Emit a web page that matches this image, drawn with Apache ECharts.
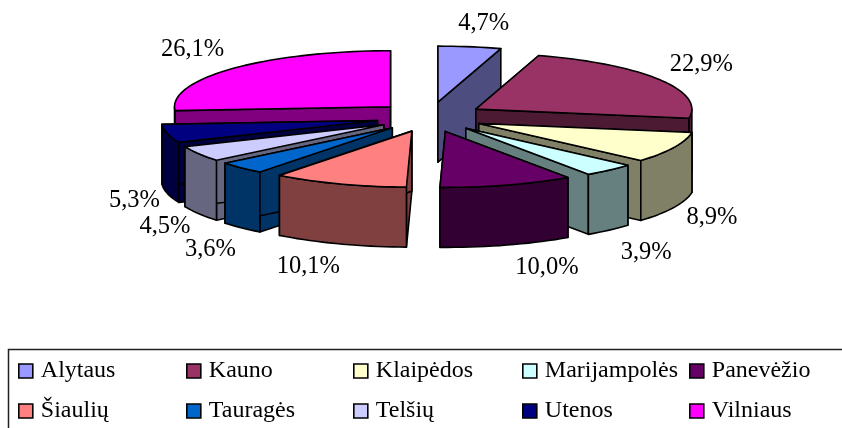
<!DOCTYPE html>
<html>
<head>
<meta charset="utf-8">
<style>html,body{margin:0;padding:0;background:#fff}#c{width:842px;height:428px}</style>
<script src="https://cdn.jsdelivr.net/npm/echarts@6/dist/echarts.min.js"></script>
</head>
<body>
<div id="c"></div>
<script>
// Regional shares, in percent, clockwise from twelve o'clock
const regions = ['Alytaus','Kauno','Klaipėdos','Marijampolės','Panevėžio','Šiaulių','Tauragės','Telšių','Utenos','Vilniaus'];
const shares = [4.7,22.9,8.9,3.9,10.0,10.1,3.6,4.5,5.3,26.1];
const topColors = ['#9999FF','#993366','#FFFFCC','#CCFFFF','#660066','#FF8080','#0066CC','#CCCCFF','#000080','#FF00FF'];
const sideColors = ['#4D4D80','#4D1A33','#808066','#668080','#330033','#804040','#003366','#666680','#000040','#800080'];
// Label shift from the rim point on each slice's bisector
const labelNudge = [[14,-24],[42,-16],[38,69],[37,81],[40,82],[-31,82],[-31,81],[-34,72],[-33,66],[-40,-20]];
const legendColumns = [['Alytaus','Šiaulių'],['Kauno','Tauragės'],['Klaipėdos','Telšių'],['Marijampolės','Utenos'],['Panevėžio','Vilniaus']];
const legendLefts = [18,186,353,522,689];

// Tilted pie projection
const CX = 430, CY = 117, RX = 216, RY = 56, EX = 54, EY = 15, DEPTH = 60;
const FONT = '"Liberation Serif","Times New Roman",serif';
const total = shares.reduce((a, b) => a + b, 0);
const rad = d => d * Math.PI / 180;

const spans = [];
shares.reduce((acc, v) => {
  const end = acc + v / total * 360;
  spans.push([acc, end]);
  return end;
}, 0);

function sliceGroup(i) {
  const [a0, a1] = spans[i];
  const mid = (a0 + a1) / 2;
  const tipX = CX + EX * Math.sin(rad(mid));
  const tipY = CY - EY * Math.cos(rad(mid));
  const rim = a => [tipX + RX * Math.sin(rad(a)), tipY - RY * Math.cos(rad(a))];
  const arc = (from, to) => {
    const pts = [];
    const n = Math.max(2, Math.ceil((to - from) / 2));
    for (let k = 0; k <= n; k++) pts.push(rim(from + (to - from) * k / n));
    return pts;
  };
  const down = p => [p[0], p[1] + DEPTH];
  const line = { stroke: '#000', lineWidth: 1.6, lineJoin: 'round' };
  const poly = (points, fill) => ({ type: 'polygon', shape: { points }, style: Object.assign({ fill }, line) });
  const tip = [tipX, tipY];
  const children = [];
  // Cut faces first, the rim wall over them, the top face last
  [a0, a1].forEach(a => {
    const p = rim(a);
    children.push(poly([tip, p, down(p), down(tip)], sideColors[i]));
  });
  const wallFrom = Math.max(a0, 90), wallTo = Math.min(a1, 270);
  if (wallTo > wallFrom) {
    const w = arc(wallFrom, wallTo);
    children.push(poly(w.concat(w.slice().reverse().map(down)), sideColors[i]));
  }
  children.push(poly([tip].concat(arc(a0, a1)), topColors[i]));
  const nudge = labelNudge[i];
  children.push({
    type: 'text',
    z2: 100,
    style: {
      x: CX + (RX + EX) * Math.sin(rad(mid)) + nudge[0],
      y: CY - (RY + EY) * Math.cos(rad(mid)) + nudge[1] + 1,
      text: shares[i].toFixed(1).replace('.', ',') + '%',
      fill: '#000',
      font: '24.5px ' + FONT,
      align: 'center',
      verticalAlign: 'middle'
    }
  });
  return { type: 'group', children };
}

// Back slices paint first
const depthRank = spans
  .map((s, i) => ({ i, c: Math.cos(rad((s[0] + s[1]) / 2)) }))
  .sort((a, b) => b.c - a.c)
  .map(o => o.i);

const series = regions.map((name, i) => ({
  type: 'custom',
  name,
  coordinateSystem: 'none',
  z: 2 + depthRank.indexOf(i),
  itemStyle: { color: topColors[i] },
  data: [shares[i]],
  silent: true,
  animation: false,
  renderItem: () => sliceGroup(i)
}));

const legend = legendColumns.map((names, c) => ({
  data: names.map(name => ({ name, icon: 'rect' })),
  orient: 'vertical',
  left: legendLefts[c],
  top: 358,
  padding: 0,
  itemWidth: 14,
  itemHeight: 14,
  itemGap: 14,
  selectedMode: false,
  itemStyle: { borderColor: '#000', borderWidth: 1.6 },
  textStyle: { fontFamily: FONT, fontSize: 24, color: '#000', padding: [0, 0, 0, 3], lineHeight: 26 },
  formatter: n => n
}));

const chart = echarts.init(document.getElementById('c'), null, { renderer: 'canvas' });
chart.setOption({
  backgroundColor: '#fff',
  animation: false,
  legend,
  graphic: [{
    type: 'rect',
    silent: true,
    z: 0,
    shape: { x: 8.5, y: 349.5, width: 900, height: 200 },
    style: { fill: 'none', stroke: '#222', lineWidth: 1.5 }
  }],
  series
});
</script>
</body>
</html>
